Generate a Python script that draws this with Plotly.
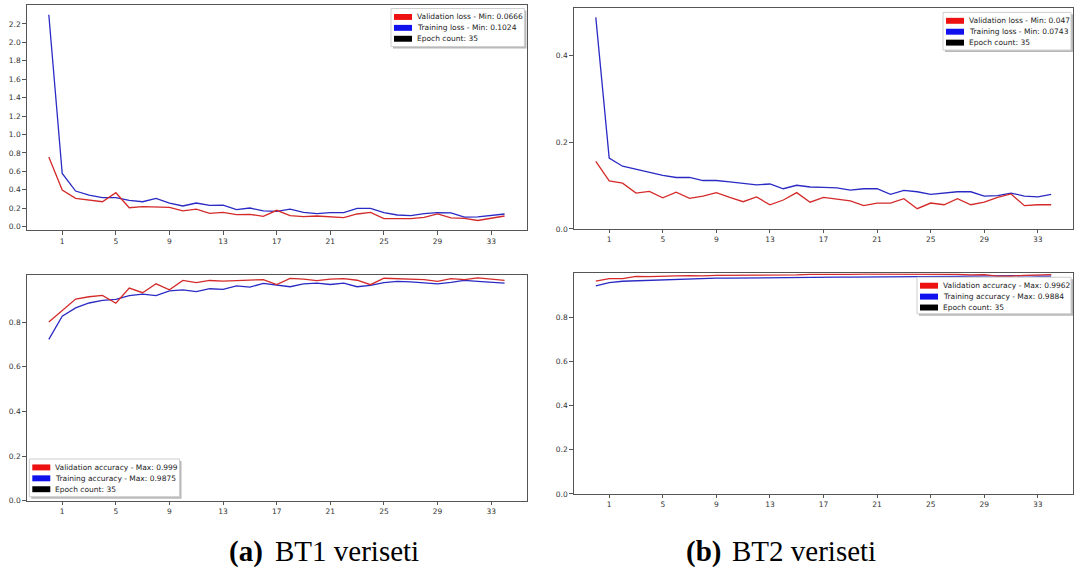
import plotly.graph_objects as go

# ---------------- data ----------------
epochs = list(range(35))
x_tick_vals = [1, 5, 9, 13, 17, 21, 25, 29, 33]
x_tick_text = ["1", "5", "9", "13", "17", "21", "25", "29", "33"]

bt1_val_loss = [0.757, 0.397, 0.307, 0.288, 0.270, 0.368, 0.205, 0.216, 0.216, 0.209,
                0.170, 0.190, 0.144, 0.155, 0.130, 0.133, 0.112, 0.177, 0.119, 0.108,
                0.115, 0.108, 0.097, 0.137, 0.155, 0.087, 0.083, 0.087, 0.101, 0.137,
                0.094, 0.090, 0.0666, 0.094, 0.115]
bt1_train_loss = [2.300, 0.577, 0.386, 0.343, 0.314, 0.314, 0.285, 0.270, 0.307, 0.256,
                  0.224, 0.256, 0.231, 0.234, 0.184, 0.202, 0.170, 0.166, 0.190, 0.155,
                  0.141, 0.151, 0.151, 0.198, 0.198, 0.151, 0.126, 0.119, 0.141, 0.151,
                  0.148, 0.1024, 0.105, 0.123, 0.137]
bt1_val_acc = [0.801, 0.853, 0.904, 0.914, 0.920, 0.885, 0.953, 0.932, 0.972, 0.945,
               0.987, 0.977, 0.987, 0.984, 0.987, 0.987, 0.991, 0.969, 0.996, 0.993,
               0.986, 0.993, 0.995, 0.988, 0.968, 0.997, 0.995, 0.990, 0.991, 0.983,
               0.995, 0.991, 0.999, 0.993, 0.987]
bt1_train_acc = [0.723, 0.827, 0.864, 0.886, 0.898, 0.902, 0.919, 0.926, 0.919, 0.940,
                 0.945, 0.937, 0.950, 0.947, 0.963, 0.957, 0.974, 0.966, 0.959, 0.972,
                 0.975, 0.969, 0.975, 0.959, 0.965, 0.977, 0.983, 0.981, 0.977, 0.972,
                 0.978, 0.9875, 0.983, 0.978, 0.975]

bt2_val_loss = [0.156, 0.111, 0.106, 0.083, 0.087, 0.072, 0.085, 0.071, 0.076, 0.084,
                0.073, 0.063, 0.074, 0.056, 0.067, 0.084, 0.062, 0.073, 0.069, 0.065,
                0.054, 0.060, 0.060, 0.070, 0.047, 0.060, 0.056, 0.070, 0.056, 0.062,
                0.073, 0.081, 0.054, 0.056, 0.056]
bt2_train_loss = [0.489, 0.164, 0.145, 0.138, 0.130, 0.124, 0.119, 0.119, 0.112, 0.112,
                  0.109, 0.106, 0.102, 0.104, 0.093, 0.101, 0.097, 0.096, 0.095, 0.090,
                  0.093, 0.093, 0.080, 0.089, 0.086, 0.080, 0.083, 0.086, 0.086, 0.076,
                  0.077, 0.083, 0.076, 0.0743, 0.080]
bt2_val_acc = [0.964, 0.975, 0.975, 0.985, 0.984, 0.987, 0.987, 0.988, 0.987, 0.990,
               0.990, 0.991, 0.991, 0.993, 0.993, 0.992, 0.994, 0.993, 0.993, 0.994,
               0.995, 0.995, 0.994, 0.995, 0.995, 0.9962, 0.994, 0.994, 0.992, 0.993,
               0.986, 0.986, 0.990, 0.993, 0.993]
bt2_train_acc = [0.942, 0.957, 0.963, 0.965, 0.969, 0.971, 0.972, 0.975, 0.976, 0.977,
                 0.977, 0.978, 0.979, 0.980, 0.980, 0.980, 0.981, 0.981, 0.982, 0.982,
                 0.982, 0.983, 0.985, 0.984, 0.984, 0.985, 0.985, 0.985, 0.986, 0.987,
                 0.985, 0.986, 0.9884, 0.986, 0.986]

bt1_loss_yticks = [0.0, 0.2, 0.4, 0.6, 0.8, 1.0, 1.2, 1.4, 1.6, 1.8, 2.0, 2.2]
bt1_acc_yticks = [0.0, 0.2, 0.4, 0.6, 0.8]
bt2_loss_yticks = [0.0, 0.2, 0.4]
bt2_acc_yticks = [0.0, 0.2, 0.4, 0.6, 0.8]

bt1_loss_legend = ["Validation loss - Min: 0.0666", "Training loss - Min: 0.1024", "Epoch count: 35"]
bt1_acc_legend = ["Validation accuracy - Max: 0.999", "Training accuracy - Max: 0.9875", "Epoch count: 35"]
bt2_loss_legend = ["Validation loss - Min: 0.047", "Training loss - Min: 0.0743", "Epoch count: 35"]
bt2_acc_legend = ["Validation accuracy - Max: 0.9962", "Training accuracy - Max: 0.9884", "Epoch count: 35"]

caption_tags = ["(a)", "(b)"]
caption_texts = ["BT1 veriseti", "BT2 veriseti"]

# ---------------- layout helpers ----------------
W, H = 1076, 577


def fx(x):
    return x / W


def fy(y):
    return 1 - y / H


RED_LINE = "#d42a2a"
BLUE_LINE = "#2a2ac4"
PATCH_COLORS = ["#ee1111", "#1111ee", "#000000"]
AXIS_COLOR = "#555555"
TICK_FONT = dict(family="DejaVu Sans", size=7.5, color="#333333")

panels = [
    dict(xd=(26.7, 526.7), yd=(4.7, 232.3), yr=(-0.04, 2.41), yt=bt1_loss_yticks,
         val=bt1_val_loss, train=bt1_train_loss, leg=bt1_loss_legend,
         box=(391.0, 8.6, 524.4, 47.0)),
    dict(xd=(26.7, 526.7), yd=(277.3, 505.0), yr=(0.0, 1.012), yt=bt1_acc_yticks,
         val=bt1_val_acc, train=bt1_train_acc, leg=bt1_acc_legend,
         box=(29.3, 463.0, 179.5, 501.0)),
    dict(xd=(573.7, 1073.3), yd=(8.3, 231.0), yr=(0.0, 0.51), yt=bt2_loss_yticks,
         val=bt2_val_loss, train=bt2_train_loss, leg=bt2_loss_legend,
         box=(943.0, 12.5, 1071.0, 50.5)),
    dict(xd=(573.7, 1073.3), yd=(275.7, 498.3), yr=(0.0, 0.999), yt=bt2_acc_yticks,
         val=bt2_val_acc, train=bt2_train_acc, leg=bt2_acc_legend,
         box=(917.0, 279.7, 1071.0, 316.5)),
]

fig = go.Figure()
layout = dict(width=W, height=H, margin=dict(l=0, r=0, t=0, b=0),
              paper_bgcolor="white", plot_bgcolor="white", showlegend=False)
shapes = []
annotations = []

for i, p in enumerate(panels):
    n = "" if i == 0 else str(i + 1)
    xa, ya = "x" + n, "y" + n
    fig.add_trace(go.Scatter(x=epochs, y=p["train"], mode="lines",
                             line=dict(color=BLUE_LINE, width=1.3), xaxis=xa, yaxis=ya,
                             showlegend=False))
    fig.add_trace(go.Scatter(x=epochs, y=p["val"], mode="lines",
                             line=dict(color=RED_LINE, width=1.3), xaxis=xa, yaxis=ya,
                             showlegend=False))
    common = dict(showline=True, mirror=True, linecolor=AXIS_COLOR, linewidth=1,
                  ticks="outside", ticklen=3.5, tickwidth=0.8, tickcolor=AXIS_COLOR,
                  showgrid=False, zeroline=False, tickfont=TICK_FONT, fixedrange=True)
    layout["xaxis" + n] = dict(domain=[fx(p["xd"][0]), fx(p["xd"][1])], anchor=ya,
                               range=[-1.65, 35.65], tickmode="array",
                               tickvals=x_tick_vals, ticktext=x_tick_text, **common)
    layout["yaxis" + n] = dict(domain=[fy(p["yd"][1]), fy(p["yd"][0])], anchor=xa,
                               range=list(p["yr"]), tickmode="array",
                               tickvals=p["yt"], ticktext=["%.1f" % v for v in p["yt"]],
                               **common)

    # manual matplotlib-style legend
    l, t, r, b = p["box"]
    shapes.append(dict(type="rect", xref="paper", yref="paper",
                       x0=fx(l + 2), x1=fx(r + 2), y0=fy(b + 2), y1=fy(t + 2),
                       fillcolor="#b8b8b8", line=dict(width=0), layer="above"))
    shapes.append(dict(type="rect", xref="paper", yref="paper",
                       x0=fx(l), x1=fx(r), y0=fy(b), y1=fy(t),
                       fillcolor="white", line=dict(color="#cfcfcf", width=1), layer="above"))
    for k, label in enumerate(p["leg"]):
        cy = t + 8.5 + 11 * k
        shapes.append(dict(type="rect", xref="paper", yref="paper",
                           x0=fx(l + 3), x1=fx(l + 21), y0=fy(cy + 3), y1=fy(cy - 3),
                           fillcolor=PATCH_COLORS[k], line=dict(width=0), layer="above"))
        annotations.append(dict(x=fx(l + 24), y=fy(cy), xref="paper", yref="paper",
                                xanchor="left", yanchor="middle", showarrow=False,
                                text=label, font=dict(family="DejaVu Sans", size=7.5,
                                                      color="#222222")))

# captions
cap_tag_x = [227, 684]
cap_text_x = [273, 730]
for tag, txt, tx, cx in zip(caption_tags, caption_texts, cap_tag_x, cap_text_x):
    annotations.append(dict(x=fx(tx), y=fy(556), xref="paper", yref="paper",
                            xanchor="left", yanchor="middle", showarrow=False,
                            text="<b>" + tag + "</b>",
                            font=dict(family="Liberation Serif", size=29, color="black")))
    annotations.append(dict(x=fx(cx), y=fy(556), xref="paper", yref="paper",
                            xanchor="left", yanchor="middle", showarrow=False,
                            text=txt,
                            font=dict(family="Liberation Serif", size=29, color="black")))

layout["shapes"] = shapes
layout["annotations"] = annotations
fig.update_layout(**layout)
fig.write_html("out.html")
